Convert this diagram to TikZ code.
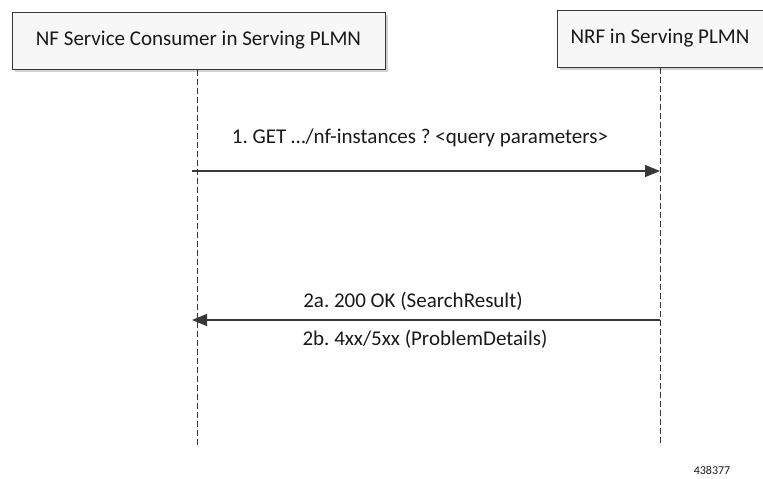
\documentclass[tikz,border=0pt]{standalone}
\usepackage{fontspec}
\setmainfont{Carlito}
\usetikzlibrary{arrows.meta}
\frenchspacing
\definecolor{ln}{HTML}{383838}
\tikzset{
  actor/.style={draw=ln, line width=1pt, fill=gray!6, minimum height=57pt, inner sep=0pt, font=\fontsize{21}{25}\selectfont, text=black!90},
  life/.style={draw=ln, line width=1pt, dash pattern=on 6pt off 3pt},
  msg/.style={draw=ln, line width=1.4pt, -{Triangle[length=15pt,width=12pt]}},
  lbl/.style={font=\fontsize{21}{25}\selectfont, text=black!90, inner sep=0pt, anchor=base}
}
\begin{document}
\begin{tikzpicture}[x=1pt,y=-1pt]
\useasboundingbox (0,0) rectangle (763,479);
\fill[gray!35] (15,15) rectangle (388,72);
\fill[gray!35] (560,13) rectangle (763,70);
\node[actor, minimum width=373pt] (c) at (198.5,40.5) {NF Service Consumer in Serving PLMN};
\node[actor, minimum width=206pt] (n) at (660,38.5) {NRF in Serving PLMN};
\coordinate (cend) at (197,445);
\coordinate (nend) at (660,445);
\draw[life] (c.south -| cend) -- (cend);
\draw[life] (n.south -| nend) -- (nend);
\coordinate (m1a) at (192,171);
\coordinate (m1b) at (660,171);
\draw[msg] (m1a) -- (m1b);
\node[lbl] (l1) at (420,143) {1. GET \dots/nf-instances ? <query parameters>};
\coordinate (m2a) at (660,320);
\coordinate (m2b) at (192,320);
\draw[msg] (m2a) -- (m2b);
\node[lbl] (l2a) at (413,307) {2a. 200 OK (SearchResult)};
\node[lbl] (l2b) at (425,345) {2b. 4xx/5xx (ProblemDetails)};
\node[font=\fontsize{12}{14}\selectfont, text=black!90, inner sep=0pt] (id) at (712,470) {438377};
\end{tikzpicture}
\end{document}
